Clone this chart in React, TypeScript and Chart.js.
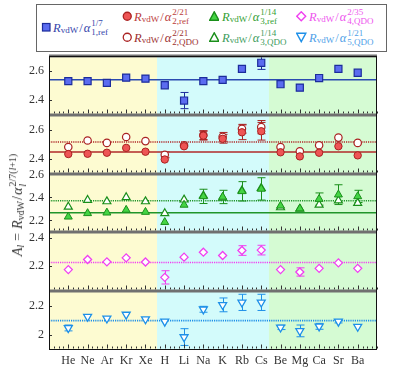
import React, { useEffect, useRef } from "react";
import { Chart, registerables } from "chart.js";
Chart.register(...registerables);

const SERIF = "'Liberation Serif', 'DejaVu Serif', serif";

// ---------- data ----------
const elements = ["He", "Ne", "Ar", "Kr", "Xe", "H", "Li", "Na", "K", "Rb", "Cs", "Be", "Mg", "Ca", "Sr", "Ba"];
const regionBounds = [-1, 4.6, 10.4, 16];
const regionColors = ["#fdfbd1", "#d3fbfb", "#d5fbd3"];

// panel 1: alpha_1 ref
const p1Ref = [2.529, 2.529, 2.517, 2.553, 2.546, 2.501, 2.397, 2.529, 2.538, 2.612, 2.654, 2.508, 2.485, 2.55, 2.612, 2.586];
const p1RefErr = [0, 0, 0, 0, 0, 0, 0.055, 0, 0, 0, 0.045, 0, 0, 0, 0, 0];
const p1RefMean = 2.538;

// panel 2: alpha_2 ref & QDO
const p2Ref = [2.433, 2.435, 2.442, 2.475, 2.449, 2.396, 2.486, 2.558, 2.537, 2.581, 2.588, 2.445, 2.417, 2.442, 2.486, 2.424];
const p2RefErr = [0, 0, 0, 0, 0, 0, 0, 0.03, 0.03, 0.05, 0.06, 0, 0, 0, 0, 0];
const p2Qdo = [2.481, 2.525, 2.509, 2.549, 2.521, 2.428, 2.493, 2.562, 2.55, 2.605, 2.616, 2.481, 2.452, 2.493, 2.545, 2.509];
const p2QdoErr = [0, 0, 0, 0, 0, 0.02, 0, 0.03, 0.03, 0.03, 0.045, 0, 0, 0, 0, 0];
const p2RefMean = 2.447;
const p2QdoMean = 2.515;

// panel 3: alpha_3 ref & QDO
const p3Ref = [2.232, 2.262, 2.267, 2.291, 2.273, 2.185, 2.335, 2.409, 2.404, 2.453, 2.474, 2.327, 2.303, 2.386, 2.424, 2.409];
const p3RefErr = [0, 0, 0, 0, 0, 0, 0, 0.062, 0.058, 0.084, 0.097, 0, 0, 0.053, 0.086, 0.053];
const p3Qdo = [2.318, 2.377, 2.365, 2.4, 2.365, 2.262, 2.38, 2.415, 2.397, 2.459, 2.481, 2.313, 2.3, 2.335, 2.373, 2.35];
const p3QdoErr = [0, 0, 0, 0, 0, 0, 0, 0, 0, 0, 0, 0, 0, 0, 0, 0];
const p3RefMean = 2.267;
const p3QdoMean = 2.371;

// panel 4: alpha_4 QDO
const p4Qdo = [2.171, 2.244, 2.227, 2.256, 2.226, 2.115, 2.261, 2.297, 2.273, 2.309, 2.312, 2.171, 2.154, 2.18, 2.22, 2.18];
const p4QdoErr = [0, 0, 0, 0, 0, 0.048, 0, 0, 0, 0.035, 0.035, 0, 0.03, 0, 0, 0];
const p4QdoMean = 2.222;

// panel 5: alpha_5 QDO
const p5Qdo = [2.05, 2.127, 2.115, 2.141, 2.11, 2.094, 1.988, 2.177, 2.207, 2.224, 2.224, 2.054, 2.03, 2.061, 2.094, 2.059];
const p5QdoErr = [0.02, 0, 0, 0, 0, 0, 0.057, 0.02, 0.047, 0.055, 0.055, 0.015, 0.04, 0.02, 0.01, 0];
const p5QdoMean = 2.1;

// y-axis tick labels per panel
const p1Ticks = [2.4, 2.6];
const p2Ticks = [2.4, 2.6];
const p3Ticks = [2.2, 2.4, 2.6];
const p4Ticks = [2.2, 2.4];
const p5Ticks = [2, 2.2];

const panelRanges: [number, number][] = [
  [2.3, 2.7],
  [2.3, 2.7],
  [2.096, 2.607],
  [2.015, 2.44],
  [1.9, 2.3],
];

// ---------- colours ----------
const C = {
  blueFill: "#5b6cf0", blueEdge: "#1c2c9c", blueLine: "#2b4ab0",
  redFill: "#ee5555", redEdge: "#aa2222", redLine: "#b02a2a",
  greenFill: "#44d444", greenEdge: "#1a8f1a", greenLine: "#20952a",
  mag: "#f040f0", cyan: "#1e90e8",
};

const panelIds = ["y1", "y2", "y3", "y4", "y5"];

const pts = (vals: number[]) => vals.map((v, i) => ({ x: i, y: v }));
const meanLine = (m: number) => [{ x: -1, y: m }, { x: 16, y: m }];

const decorPlugin = {
  id: "decor",
  beforeDatasetsDraw(chart: any) {
    const { ctx, chartArea: ca, scales } = chart;
    const xs = scales.x;
    ctx.save();
    for (let k = 0; k < 3; k++) {
      const x0 = xs.getPixelForValue(regionBounds[k]);
      const x1 = xs.getPixelForValue(regionBounds[k + 1]);
      ctx.fillStyle = regionColors[k];
      ctx.fillRect(x0, ca.top, x1 - x0, ca.bottom - ca.top);
    }
    chart.data.datasets.forEach((ds: any) => {
      const errs = ds.errs;
      if (!errs) return;
      const ys = scales[ds.yAxisID];
      ctx.strokeStyle = ds.borderColor;
      ctx.lineWidth = 1;
      ctx.beginPath();
      ds.data.forEach((p: any, j: number) => {
        const e = errs[j];
        if (!e) return;
        const px = Math.round(xs.getPixelForValue(p.x)) + 0.5;
        const a = ys.getPixelForValue(p.y + e);
        const b = ys.getPixelForValue(p.y - e);
        ctx.moveTo(px, a); ctx.lineTo(px, b);
        ctx.moveTo(px - 4, a); ctx.lineTo(px + 4, a);
        ctx.moveTo(px - 4, b); ctx.lineTo(px + 4, b);
      });
      ctx.stroke();
    });
    ctx.restore();
  },
  afterDraw(chart: any) {
    const { ctx, chartArea: ca, scales } = chart;
    const xs = scales.x;
    ctx.save();
    ctx.strokeStyle = "#333";
    ctx.lineWidth = 1;
    ctx.beginPath();
    panelIds.forEach((id) => {
      const s = scales[id];
      const yb = Math.round(s.bottom) - 1.5;
      for (let k = -4; k <= 64; k++) {
        const v = k / 4;
        const major = k % 4 === 0 && v >= 0 && v <= 15;
        const px = Math.round(xs.getPixelForValue(v)) + 0.5;
        ctx.moveTo(px, yb);
        ctx.lineTo(px, yb - (major ? 4 : 2));
      }
      s.ticks.forEach((t: any) => {
        const py = Math.round(s.getPixelForValue(t.value)) + 0.5;
        ctx.moveTo(ca.left, py);
        ctx.lineTo(ca.left + 3, py);
      });
    });
    ctx.stroke();
    ctx.fillStyle = "#707070";
    panelIds.forEach((id) => {
      const s = scales[id];
      ctx.fillRect(ca.left, Math.round(s.top) - 1.5, ca.right - ca.left, 3);
    });
    ctx.strokeStyle = "#111";
    ctx.strokeRect(ca.left + 0.5, ca.top + 0.5, ca.right - ca.left - 1, ca.bottom - ca.top - 1);
    ctx.restore();
  },
};

const yScale = (idx: number, ticks: number[]) => ({
  type: "linear",
  position: "left",
  stack: "panels",
  stackWeight: 1,
  min: panelRanges[idx][0],
  max: panelRanges[idx][1],
  grid: { display: false, drawTicks: false },
  border: { display: false },
  ticks: {
    autoSkip: false,
    font: { family: SERIF, size: 12 },
    color: "#333",
    padding: 5,
    callback: (v: number) => String(Math.round(v * 100) / 100),
  },
  afterBuildTicks: (s: any) => {
    s.ticks = ticks.map((v) => ({ value: v }));
  },
  afterFit: (s: any) => {
    s.width = 49;
  },
});

function Stack({ sup, sub, size }: { sup: string; sub: string; size: number }) {
  return (
    <span
      style={{
        display: "inline-flex",
        flexDirection: "column",
        fontSize: size,
        lineHeight: 1.0,
        marginLeft: 1,
        verticalAlign: "middle",
      }}
    >
      <span>{sup}</span>
      <span>{sub}</span>
    </span>
  );
}

function Formula({ sup, sub, color }: { sup: string; sub: string; color: string }) {
  const size = 12.5;
  const s = 9;
  return (
    <span
      style={{
        color,
        fontFamily: SERIF,
        fontSize: size,
        display: "inline-flex",
        alignItems: "center",
        whiteSpace: "nowrap",
        lineHeight: 1,
      }}
    >
      <i>R</i>
      <span style={{ fontSize: s, position: "relative", top: 3 }}>vdW</span>
      <span style={{ margin: "0 1px" }}>/</span>
      <i>α</i>
      <Stack sup={sup} sub={sub} size={s} />
    </span>
  );
}

function Marker({ kind, stroke, fill }: { kind: string; stroke: string; fill: string }) {
  let shape: any = null;
  if (kind === "square") shape = <rect x={1.5} y={1.5} width={7.5} height={7.5} fill={fill} stroke={stroke} strokeWidth={1.2} />;
  if (kind === "circle") shape = <circle cx={5.25} cy={5.25} r={4} fill={fill} stroke={stroke} strokeWidth={1.3} />;
  if (kind === "tri") shape = <polygon points="5.25,0.8 9.8,9.2 0.7,9.2" fill={fill} stroke={stroke} strokeWidth={1.4} />;
  if (kind === "dtri") shape = <polygon points="0.7,1.3 9.8,1.3 5.25,9.7" fill={fill} stroke={stroke} strokeWidth={1.4} />;
  if (kind === "diamond") shape = <polygon points="5.25,0.8 9.7,5.25 5.25,9.7 0.8,5.25" fill={fill} stroke={stroke} strokeWidth={1.4} />;
  return (
    <svg width={10.5} height={10.5} style={{ display: "block" }}>
      {shape}
    </svg>
  );
}

const legendItems = [
  { mx: 46, y: 27.7, tx: 53, kind: "square", stroke: C.blueEdge, fill: C.blueFill, sup: "1/7", sub: "1,ref", color: "#3344aa" },
  { mx: 127.7, y: 16.7, tx: 134, kind: "circle", stroke: C.redEdge, fill: C.redFill, sup: "2/21", sub: "2,ref", color: "#bb3c3c" },
  { mx: 127.7, y: 37.7, tx: 134, kind: "circle", stroke: C.redEdge, fill: "#fff", sup: "2/21", sub: "2,QDO", color: "#9c3030" },
  { mx: 214, y: 16.7, tx: 222, kind: "tri", stroke: C.greenEdge, fill: C.greenFill, sup: "1/14", sub: "3,ref", color: "#33a033" },
  { mx: 214, y: 37.7, tx: 222, kind: "tri", stroke: C.greenEdge, fill: "#fff", sup: "1/14", sub: "3,QDO", color: "#3c9c5c" },
  { mx: 301.7, y: 16.7, tx: 309, kind: "diamond", stroke: C.mag, fill: "#fff", sup: "2/35", sub: "4,QDO", color: "#ee55ee" },
  { mx: 301.7, y: 37.7, tx: 309, kind: "dtri", stroke: C.cyan, fill: "#fff", sup: "1/21", sub: "5,QDO", color: "#4f9fe8" },
];

export default function App() {
  const ref = useRef<HTMLCanvasElement | null>(null);
  useEffect(() => {
    if (!ref.current) return;
    const scatter = (label: string, vals: number[], errs: number[] | null, yAxisID: string, style: any, order: number) => ({
      type: "scatter",
      label,
      data: pts(vals),
      errs,
      yAxisID,
      showLine: false,
      order,
      ...style,
    });
    const line = (label: string, m: number, yAxisID: string, color: string, dotted: boolean) => ({
      type: "line",
      label,
      data: meanLine(m),
      yAxisID,
      showLine: true,
      borderColor: color,
      borderWidth: dotted ? 1.6 : 1.5,
      borderDash: dotted ? [1.2, 1] : [],
      pointRadius: 0,
      order: 10,
    });
    const chart = new Chart(ref.current, {
      type: "scatter",
      data: {
        datasets: [
          line("m1", p1RefMean, "y1", C.blueLine, false),
          line("m2r", p2RefMean, "y2", C.redLine, false),
          line("m2q", p2QdoMean, "y2", C.redLine, true),
          line("m3r", p3RefMean, "y3", C.greenLine, false),
          line("m3q", p3QdoMean, "y3", C.greenLine, true),
          line("m4", p4QdoMean, "y4", C.mag, true),
          line("m5", p5QdoMean, "y5", C.cyan, true),
          scatter("a1ref", p1Ref, p1RefErr, "y1", { pointStyle: "rect", pointRadius: 5, backgroundColor: C.blueFill, borderColor: C.blueEdge, borderWidth: 1.2 }, 1),
          scatter("a2qdo", p2Qdo, p2QdoErr, "y2", { pointStyle: "circle", pointRadius: 3.7, backgroundColor: "#fff", borderColor: C.redEdge, borderWidth: 1.2 }, 2),
          scatter("a2ref", p2Ref, p2RefErr, "y2", { pointStyle: "circle", pointRadius: 3.7, backgroundColor: C.redFill, borderColor: C.redEdge, borderWidth: 1 }, 1),
          scatter("a3qdo", p3Qdo, p3QdoErr, "y3", { pointStyle: "triangle", pointRadius: 4.6, backgroundColor: "#fff", borderColor: C.greenEdge, borderWidth: 1.2 }, 2),
          scatter("a3ref", p3Ref, p3RefErr, "y3", { pointStyle: "triangle", pointRadius: 4.6, backgroundColor: C.greenFill, borderColor: C.greenEdge, borderWidth: 1 }, 1),
          scatter("a4qdo", p4Qdo, p4QdoErr, "y4", { pointStyle: "rectRot", pointRadius: 4, backgroundColor: "#fff", borderColor: C.mag, borderWidth: 1.3 }, 1),
          scatter("a5qdo", p5Qdo, p5QdoErr, "y5", { pointStyle: "triangle", rotation: 180, pointRadius: 4.6, backgroundColor: "#fff", borderColor: C.cyan, borderWidth: 1.3 }, 1),
        ] as any,
      },
      options: {
        responsive: false,
        animation: false,
        devicePixelRatio: 1,
        layout: { padding: { top: 56, right: 22, left: 0, bottom: 0 } },
        plugins: { legend: { display: false }, tooltip: { enabled: false } },
        scales: {
          x: {
            type: "linear",
            position: "bottom",
            min: -1,
            max: 16,
            grid: { display: false, drawTicks: false },
            border: { display: false },
            ticks: {
              autoSkip: false,
              maxRotation: 0,
              padding: 4,
              font: { family: SERIF, size: 12 },
              color: "#333",
              callback: (v: any) => elements[v] ?? "",
            },
            afterBuildTicks: (s: any) => {
              s.ticks = elements.map((_, i) => ({ value: i }));
            },
            afterFit: (s: any) => {
              s.height = 18;
            },
          },
          y5: yScale(4, p5Ticks),
          y4: yScale(3, p4Ticks),
          y3: yScale(2, p3Ticks),
          y2: yScale(1, p2Ticks),
          y1: yScale(0, p1Ticks),
        } as any,
      },
      plugins: [decorPlugin],
    });
    return () => chart.destroy();
  }, []);

  return (
    <div style={{ position: "absolute", left: 0, top: 0, width: 399, height: 368, background: "#fff" }}>
      <canvas ref={ref} width={399} height={368} style={{ position: "absolute", left: 0, top: 0, width: 399, height: 368 }} />
      <div
        style={{
          position: "absolute",
          left: 36,
          top: 4,
          width: 349,
          height: 46,
          border: "1.3px solid #666",
          background: "#fff",
        }}
      />
      {legendItems.map((it, i) => (
        <React.Fragment key={i}>
          <div style={{ position: "absolute", left: it.mx - 5.25, top: it.y - 5.25 }}>
            <Marker kind={it.kind} stroke={it.stroke} fill={it.fill} />
          </div>
          <div style={{ position: "absolute", left: it.tx, top: it.y, transform: "translateY(-50%)" }}>
            <Formula sup={it.sup} sub={it.sub} color={it.color} />
          </div>
        </React.Fragment>
      ))}
      <div
        style={{
          position: "absolute",
          left: 18,
          top: 205,
          transform: "translate(-50%, -50%) rotate(-90deg)",
          whiteSpace: "nowrap",
          fontFamily: SERIF,
          fontSize: 14,
          color: "#333",
          display: "inline-flex",
          alignItems: "center",
          lineHeight: 1,
        }}
      >
        <i>A</i>
        <i style={{ fontSize: 10, position: "relative", top: 3 }}>l</i>
        <span style={{ margin: "0 4px" }}>=</span>
        <i>R</i>
        <span style={{ fontSize: 10, position: "relative", top: 3 }}>vdW</span>
        <span style={{ margin: "0 1px" }}>/</span>
        <i>α</i>
        <span style={{ display: "inline-flex", flexDirection: "column", fontSize: 10, lineHeight: 1.0, marginLeft: 1 }}>
          <span>2/7(<i>l</i>+1)</span>
          <i>l</i>
        </span>
      </div>
    </div>
  );
}
